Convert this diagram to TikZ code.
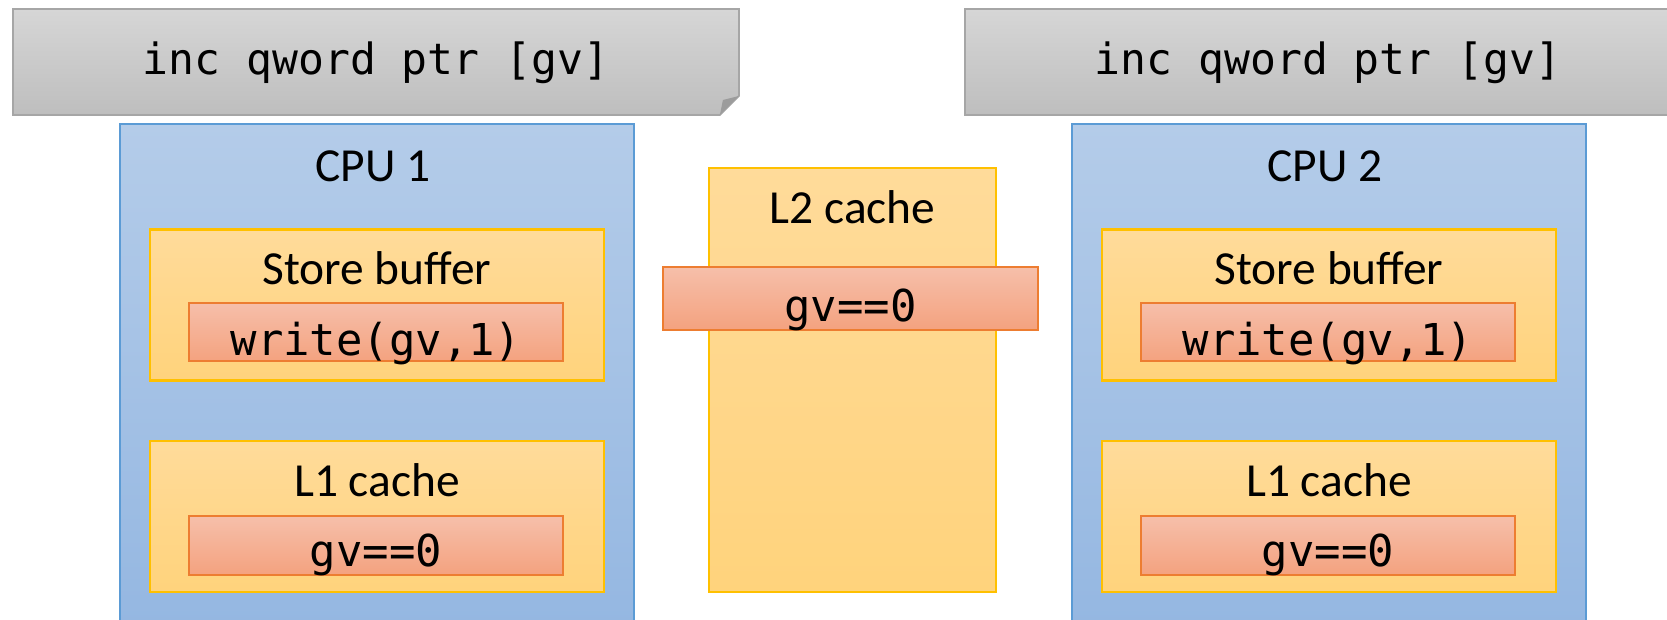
\documentclass[tikz,border=0pt]{standalone}
\usepackage{fontspec}
\setmainfont{Carlito}
\setmonofont{DejaVu Sans Mono}
\usepackage{tikz}
\usetikzlibrary{positioning}
\definecolor{noteTop}{HTML}{D6D6D6}
\definecolor{noteBot}{HTML}{BEBEBE}
\definecolor{noteLine}{HTML}{A6A6A6}
\definecolor{noteFold}{HTML}{9C9C9C}
\definecolor{cpuTop}{HTML}{B4CCE9}
\definecolor{cpuBot}{HTML}{93B6E1}
\definecolor{cpuLine}{HTML}{5B9BD5}
\definecolor{cacheTop}{HTML}{FFDB9A}
\definecolor{cacheBot}{HTML}{FFD37C}
\definecolor{cacheLine}{HTML}{FFC000}
\definecolor{entryTop}{HTML}{F6BFAA}
\definecolor{entryBot}{HTML}{F4A27F}
\definecolor{entryLine}{HTML}{ED7D31}
\tikzset{
  notebox/.style={
    rectangle, inner sep=0pt, outer sep=0pt,
    minimum width=14.52cm, minimum height=2.12cm
  },
  noteshade/.style={
    draw=noteLine, top color=noteTop, bottom color=noteBot, line width=1pt
  },
  cpu/.style={
    rectangle, inner sep=0pt, outer sep=0pt, line width=1pt,
    draw=cpuLine, top color=cpuTop, bottom color=cpuBot,
    minimum width=10.28cm, minimum height=10.52cm
  },
  cache/.style={
    rectangle, inner sep=0pt, outer sep=0pt, line width=1.2pt,
    draw=cacheLine, top color=cacheTop, bottom color=cacheBot,
    minimum width=9.08cm, minimum height=3.02cm
  },
  entry/.style={
    rectangle, inner sep=0pt, outer sep=0pt, line width=1.2pt,
    draw=entryLine, top color=entryTop, bottom color=entryBot,
    minimum width=7.48cm, minimum height=1.17cm
  },
  title/.style={anchor=base, inner sep=0pt, font=\fontsize{27}{31}\selectfont},
  code/.style={anchor=base, inner sep=0pt, font=\fontsize{25}{30}\selectfont\ttfamily}
}

\begin{document}
\begin{tikzpicture}[x=0.02cm, y=-0.02cm]
    \useasboundingbox (0,0) rectangle (1667,619);
    \clip (0,0) rectangle (1667,619);

    % L2 cache
    \node[cache, minimum width=5.74cm, minimum height=8.48cm] (ltwo) at (852.5,380) {};
    \node[title] (ltwotitle) at (852.5,223) {L2 cache};
    \node[entry, minimum width=7.5cm, minimum height=1.26cm] (ltwoentry) at (850.5,298.5) {};
    \node[code] (ltwoval) at (850.5,321) {gv==0};

    % CPUs
    \foreach \i/\dx in {1/0, 2/952} {
        \node[notebox] (note\i) at (376+\dx,62) {};
        \path[noteshade] (note\i.north west) -- (note\i.north east)
            -- ([yshift=0.38cm]note\i.south east) -- ([xshift=-0.38cm]note\i.south east)
            -- (note\i.south west) -- cycle;
        \fill[noteFold] ([yshift=0.38cm]note\i.south east) -- ([xshift=-0.38cm]note\i.south east)
            -- ([xshift=-0.32cm, yshift=0.3cm]note\i.south east) -- cycle;
        \node[code, font=\fontsize{24.5}{30}\selectfont\ttfamily] (instr\i) at (376+\dx,74) {inc qword ptr [gv]};

        \node[cpu] (cpu\i) at (377+\dx,387) {};
        \node[title] (cputitle\i) at (373+\dx,181) {CPU \i};

        \node[cache] (store\i) at (377+\dx,305) {};
        \node[title] (storetitle\i) at (377+\dx,284) {Store buffer};
        \node[entry] (write\i) at (376+\dx,332) {};
        \node[code] (writeval\i) at (376+\dx,355) {write(gv,1)};

        \node[cache] (lone\i) at (377+\dx,516.5) {};
        \node[title] (lonetitle\i) at (377+\dx,496) {L1 cache};
        \node[entry] (loneentry\i) at (376+\dx,545.5) {};
        \node[code] (loneval\i) at (376+\dx,566) {gv==0};
    }

\end{tikzpicture}
\end{document}
